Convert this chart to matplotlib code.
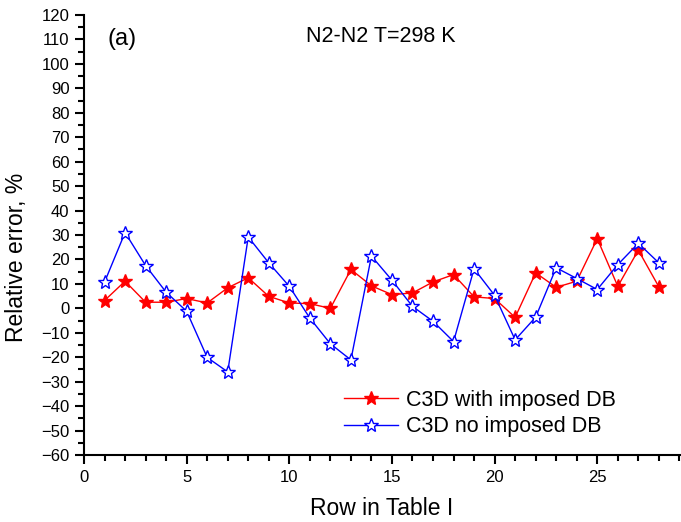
import numpy as np
import matplotlib
matplotlib.use("Agg")
import matplotlib.pyplot as plt
from matplotlib.ticker import MultipleLocator

plt.rcParams['font.family'] = ['Liberation Sans', 'DejaVu Sans']

rows = np.arange(1, 29)
with_db = [3.2, 11.1, 2.5, 2.5, 4.0, 2.2, 8.4, 12.5, 4.9, 2.2, 1.9, 0.0, 15.9, 9.2,
           5.6, 6.3, 10.8, 13.8, 4.7, 4.0, -3.7, 14.5, 8.6, 11.1, 28.5, 9.0, 23.8, 8.8]
no_db = [10.7, 31.0, 17.5, 6.6, -1.2, -20.1, -26.0, 29.2, 18.6, 9.0, -4.0, -14.5, -21.1, 21.4,
         11.5, 0.8, -5.3, -13.6, 16.2, 5.3, -12.9, -3.6, 16.6, 12.2, 7.7, 17.9, 26.6, 18.6]

fig = plt.figure(figsize=(6.81, 5.22), dpi=100)
# left/bottom spines at pixel x=84, y=455; top at y=15, right at x=680
ax = fig.add_axes([84 / 681, 1 - 455 / 522, 596 / 681, 440 / 522])

ax.plot(rows, with_db, color='red', lw=1, marker='*', ms=10, mfc='red', mec='red',
        label='C3D with imposed DB')
ax.plot(rows, no_db, color='blue', lw=1, marker='*', ms=10, mfc='white', mec='blue',
        mew=1, label='C3D no imposed DB')

ax.set_xlim(0, 29.03)
ax.set_ylim(-60, 120)
ax.xaxis.set_major_locator(MultipleLocator(5))
ax.xaxis.set_minor_locator(MultipleLocator(1))
ax.yaxis.set_major_locator(MultipleLocator(10))
ax.yaxis.set_minor_locator(MultipleLocator(5))
ax.tick_params(which='major', direction='out', length=6.5, width=1.5, labelsize=12, pad=4)
ax.tick_params(which='minor', direction='out', length=4, width=1.5)
ax.spines['top'].set_visible(False)
ax.spines['right'].set_visible(False)
ax.spines['left'].set_linewidth(1.5)
ax.spines['bottom'].set_linewidth(1.5)

ax.set_xlabel('Row in Table I', fontsize=16.5, va='center')
ax.xaxis.set_label_coords(0.5, -0.122)
ax.set_ylabel('Relative error, %', fontsize=16.5, va='center')
ax.yaxis.set_label_coords(-0.113, 0.45)

ax.text(1.15, 110, '(a)', fontsize=17, va='center')
ax.text(10.83, 111, 'N2-N2 T=298 K', fontsize=15.5, va='center')

ax.legend(loc='center left', bbox_to_anchor=(0.4355, 0.094), frameon=False, fontsize=15.5,
          handlelength=2.55, handletextpad=0.33, borderpad=0, borderaxespad=0,
          labelspacing=0.25)

fig.savefig('out.png', dpi=100)
